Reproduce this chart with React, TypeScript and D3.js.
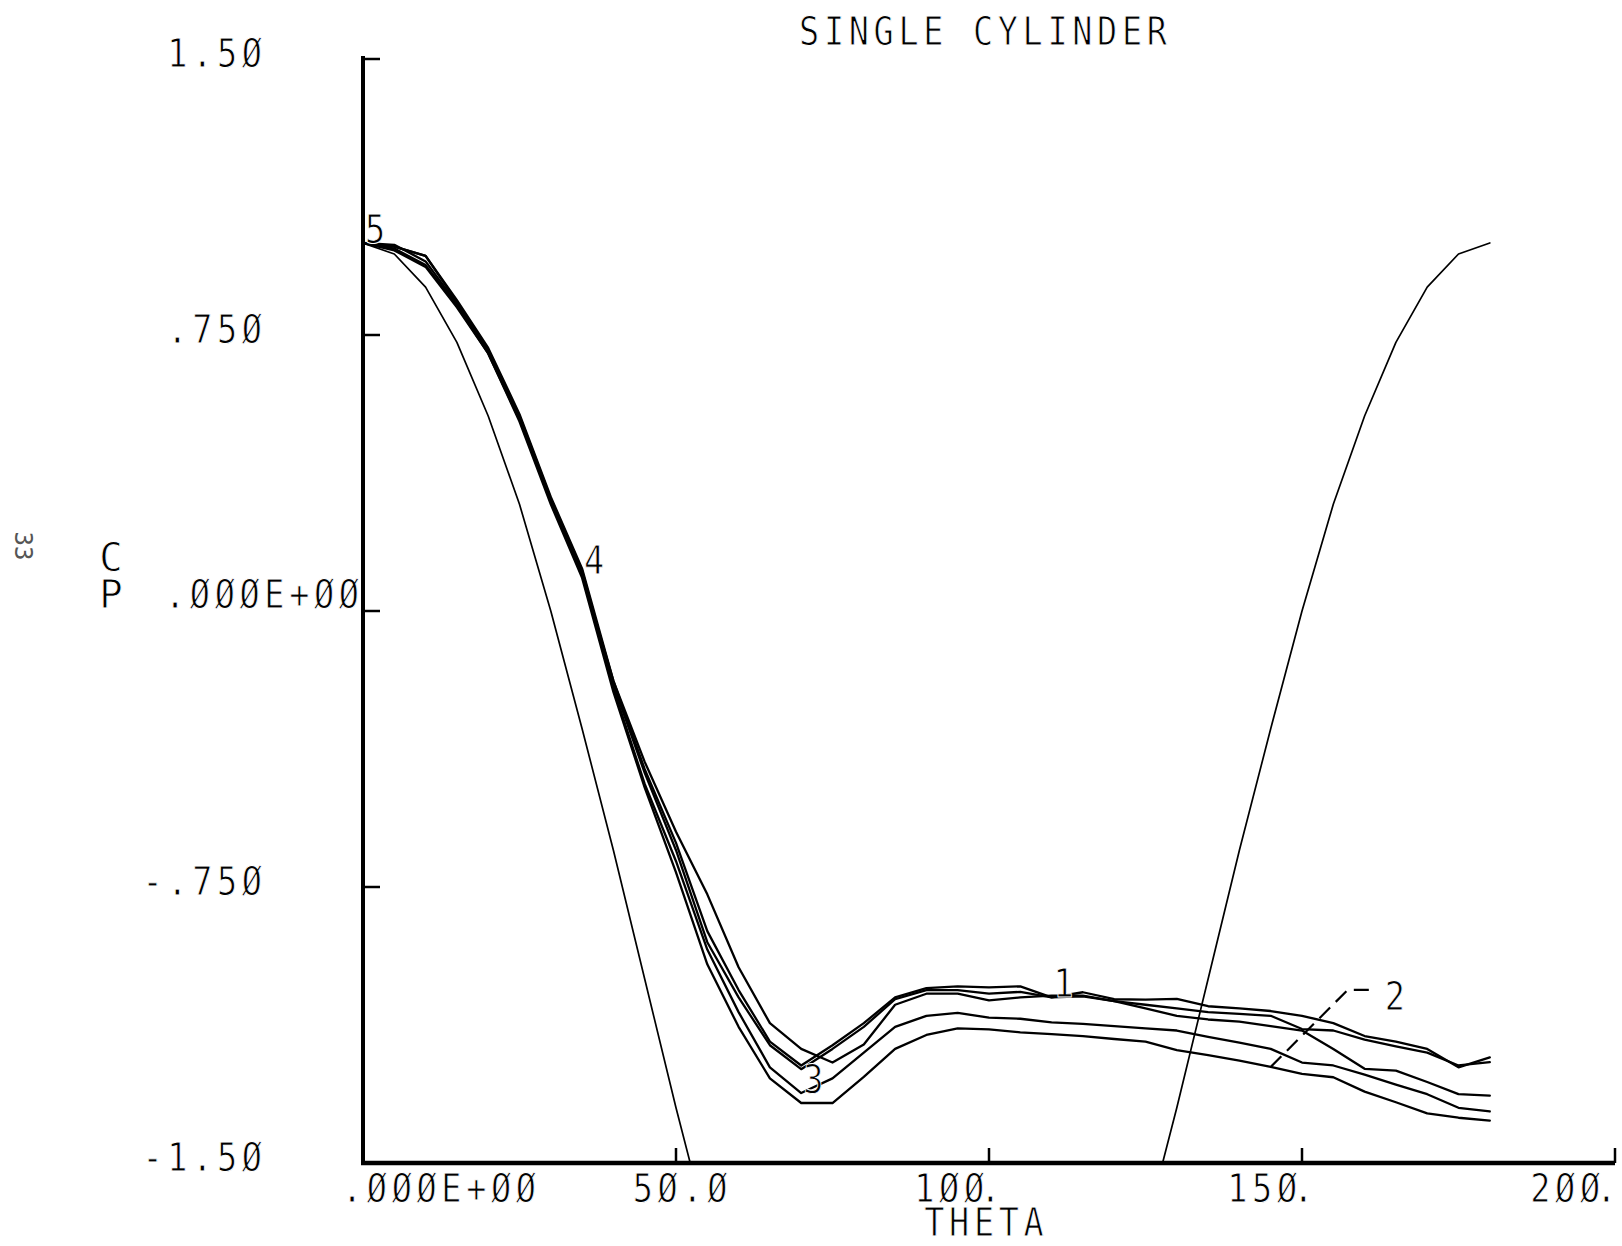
import React from 'react';
import * as d3 from 'd3';

const W = 1622;
const H = 1246;

// angle around cylinder, degrees
const thetaDeg = [0, 5, 10, 15, 20, 25, 30, 35, 40, 45, 50, 55, 60, 65, 70, 75, 80, 85, 90,
  95, 100, 105, 110, 115, 120, 125, 130, 135, 140, 145, 150, 155, 160, 165, 170, 175, 180];

// potential-flow curve (clipped at -1.5)
const cpTheory = [1.0, 0.97, 0.88, 0.73, 0.53, 0.29, 0.0, -0.32, -0.65, -1.0, -1.35, -1.68, -2.0,
  -2.29, -2.53, -2.73, -2.88, -2.97, -3.0, -2.97, -2.88, -2.73, -2.53, -2.29, -2.0, -1.68, -1.35,
  -1.0, -0.65, -0.32, 0.0, 0.29, 0.53, 0.73, 0.88, 0.97, 1.0];

const cpRun1 = [1.0, 0.99, 0.965, 0.845, 0.715, 0.535, 0.31, 0.115, -0.19, -0.43, -0.63, -0.87, -1.03,
  -1.17, -1.235, -1.18, -1.12, -1.05, -1.025, -1.02, -1.023, -1.02, -1.05, -1.036, -1.055, -1.056,
  -1.054, -1.074, -1.08, -1.087, -1.1, -1.12, -1.155, -1.17, -1.19, -1.24, -1.213];

const cpRun2 = [1.0, 0.98, 0.935, 0.825, 0.7, 0.515, 0.29, 0.09, -0.22, -0.48, -0.71, -0.96, -1.13,
  -1.27, -1.337, -1.337, -1.266, -1.19, -1.152, -1.134, -1.137, -1.145, -1.15, -1.155, -1.163, -1.17,
  -1.193, -1.207, -1.222, -1.239, -1.258, -1.267, -1.306, -1.335, -1.365, -1.377, -1.385];

const cpRun3 = [1.0, 0.985, 0.94, 0.83, 0.7, 0.52, 0.3, 0.1, -0.21, -0.47, -0.68, -0.92, -1.09,
  -1.24, -1.31, -1.27, -1.2, -1.13, -1.1, -1.092, -1.105, -1.108, -1.118, -1.122, -1.128, -1.134,
  -1.14, -1.157, -1.173, -1.19, -1.227, -1.235, -1.26, -1.287, -1.313, -1.35, -1.36];

const cpRun4 = [1.0, 0.995, 0.95, 0.835, 0.705, 0.525, 0.3, 0.1, -0.19, -0.41, -0.6, -0.77, -0.968,
  -1.12, -1.19, -1.227, -1.178, -1.07, -1.04, -1.04, -1.058, -1.05, -1.045, -1.045, -1.06, -1.08,
  -1.1, -1.11, -1.116, -1.128, -1.14, -1.19, -1.244, -1.249, -1.28, -1.313, -1.317];

const cpRun5 = [1.0, 0.99, 0.965, 0.84, 0.71, 0.53, 0.305, 0.11, -0.2, -0.44, -0.65, -0.9, -1.05,
  -1.18, -1.245, -1.19, -1.13, -1.055, -1.03, -1.03, -1.04, -1.035, -1.05, -1.047, -1.06, -1.07,
  -1.08, -1.09, -1.095, -1.1, -1.136, -1.14, -1.165, -1.183, -1.2, -1.235, -1.226];

const runSeries = [cpRun1, cpRun2, cpRun3, cpRun4, cpRun5];
const runLabels = ['1', '2', '3', '4', '5'];
const runLabelTheta = [110, 145, 70, 35, 0];
const runLeader = [false, true, false, false, false];

const xTicks = [0, 50, 100, 150, 200];
const xTickLabels = ['.ØØØE+ØØ', '5Ø.Ø', '1ØØ.', '15Ø.', '2ØØ.'];
const yTicks = [1.5, 0.75, 0, -0.75, -1.5];
const yTickLabels = ['1.5Ø', '.75Ø', '.ØØØE+ØØ', '-.75Ø', '-1.5Ø'];

const titleText = 'SINGLE CYLINDER';
const xTitle = 'THETA';
const yTitle = 'CP';

const FONT = "'DejaVu Sans Mono', monospace";
const FS = 39;
const SX = 0.86; // narrow plotter lettering
const LS = 5.4; // letter spacing in local units

type Anchor = 'start' | 'middle' | 'end';

const baseStyle: React.CSSProperties = {
  fontFamily: FONT,
  fontSize: FS,
  letterSpacing: LS,
  fill: '#000',
  stroke: '#fff',
  strokeWidth: 0.9,
  paintOrder: 'fill',
};

function PText({
  x,
  y,
  anchor = 'start',
  dxList,
  children,
}: {
  x: number;
  y: number;
  anchor?: Anchor;
  dxList?: string;
  children: React.ReactNode;
}) {
  const dx = dxList ?? String(anchor === 'end' ? LS : anchor === 'middle' ? LS / 2 : 0);
  return (
    <text
      transform={`translate(${x},${y}) scale(${SX},1)`}
      x={0}
      y={0}
      dx={dx}
      textAnchor={anchor}
      style={baseStyle}
    >
      {children}
    </text>
  );
}

export default function App() {
  const x = d3.scaleLinear().domain([0, 200]).range([363, 1615]);
  const y = d3.scaleLinear().domain([-1.5, 1.5]).range([1163, 59]);
  const [x0, x1] = x.range();
  const [yb, yt] = y.range();

  const line = d3
    .line<[number, number]>()
    .x((d) => x(d[0]))
    .y((d) => y(d[1]));

  const theoryPts = thetaDeg.map((t, i) => [t, cpTheory[i]] as [number, number]);

  return (
    <svg
      width={W}
      height={H}
      viewBox={`0 0 ${W} ${H}`}
      style={{ position: 'absolute', left: 0, top: 0, background: '#fff', display: 'block' }}
    >
      <rect x={0} y={0} width={W} height={H} fill="#fff" />
      <defs>
        <clipPath id="plotClip">
          <rect x={x0} y={yt - 40} width={x1 - x0 + 10} height={yb - yt + 40} />
        </clipPath>
      </defs>

      {/* title */}
      <PText x={(x0 + x1) / 2 - 6} y={45} anchor="middle">
        {titleText}
      </PText>

      {/* page mark */}
      <text
        x={0}
        y={0}
        transform={`translate(15,546) rotate(90)`}
        textAnchor="middle"
        style={{ fontFamily: FONT, fontSize: 24, fill: '#555' }}
      >
        33
      </text>

      {/* y axis */}
      <line x1={x0} x2={x0} y1={yt - 3} y2={yb} stroke="#000" strokeWidth={4} />
      {yTicks.map((t, i) => (
        <g key={'yt' + i}>
          <line x1={x0} x2={x0 + 17} y1={y(t)} y2={y(t)} stroke="#000" strokeWidth={2.5} />
          {t === 0 ? (
            <PText x={x0 - 4} y={y(t) - 3} anchor="end">
              {yTickLabels[i]}
            </PText>
          ) : (
            <PText x={x0 - 101} y={y(t) + 8} anchor="end">
              {yTickLabels[i]}
            </PText>
          )}
        </g>
      ))}
      {/* stacked axis title C over P */}
      <text
        x={111}
        y={y(0) - 76}
        style={{
          ...baseStyle,
          letterSpacing: -8,
          writingMode: 'vertical-lr',
          textOrientation: 'upright',
        } as React.CSSProperties}
      >
        {yTitle}
      </text>

      {/* x axis */}
      <line x1={x0 - 2} x2={x1} y1={yb} y2={yb} stroke="#000" strokeWidth={4.5} />
      {xTicks.map((t, i) => {
        const lab = xTickLabels[i];
        const ty = yb + 39;
        let node: React.ReactNode;
        if (lab.startsWith('.')) {
          node = (
            <PText x={x(t) - 21} y={ty} anchor="start">
              {lab}
            </PText>
          );
        } else if (lab.endsWith('.')) {
          // trailing point sits tight against the last digit
          const dxs = lab
            .split('')
            .map((_, j) => (j === lab.length - 1 ? -10 : 0))
            .join(' ');
          node = (
            <PText x={Math.min(x(t) + 16, W - 1)} y={ty} anchor="end" dxList={dxs}>
              {lab}
            </PText>
          );
        } else {
          node = (
            <PText x={x(t) + 4} y={ty} anchor="middle">
              {lab}
            </PText>
          );
        }
        return (
          <g key={'xt' + i}>
            {t !== 0 && (
              <line x1={x(t)} x2={x(t)} y1={yb} y2={yb - 15} stroke="#000" strokeWidth={2.5} />
            )}
            {node}
          </g>
        );
      })}
      <PText x={(x0 + x1) / 2 - 5} y={yb + 73} anchor="middle">
        {xTitle}
      </PText>

      {/* curves */}
      <g clipPath="url(#plotClip)" fill="none" stroke="#000" strokeLinejoin="round" strokeLinecap="round">
        <path d={line(theoryPts) || ''} strokeWidth={1.7} />
        {runSeries.map((s, k) => (
          <path
            key={'run' + k}
            d={line(thetaDeg.map((t, i) => [t, s[i]] as [number, number])) || ''}
            strokeWidth={2.3}
          />
        ))}
      </g>

      {/* curve labels */}
      {runSeries.map((s, k) => {
        const idx = thetaDeg.indexOf(runLabelTheta[k]);
        const px = x(runLabelTheta[k]);
        const py = y(s[idx]);
        if (runLeader[k]) {
          const ex = px + 77;
          const ey = py - 77;
          return (
            <g key={'lab' + k}>
              <polyline
                points={`${px},${py} ${ex},${ey} ${ex + 28},${ey}`}
                fill="none"
                stroke="#000"
                strokeWidth={2.2}
                strokeDasharray="15 8"
              />
              <PText x={ex + 37} y={ey + 20}>
                {runLabels[k]}
              </PText>
            </g>
          );
        }
        return (
          <PText key={'lab' + k} x={px + 2} y={py}>
            {runLabels[k]}
          </PText>
        );
      })}
    </svg>
  );
}
